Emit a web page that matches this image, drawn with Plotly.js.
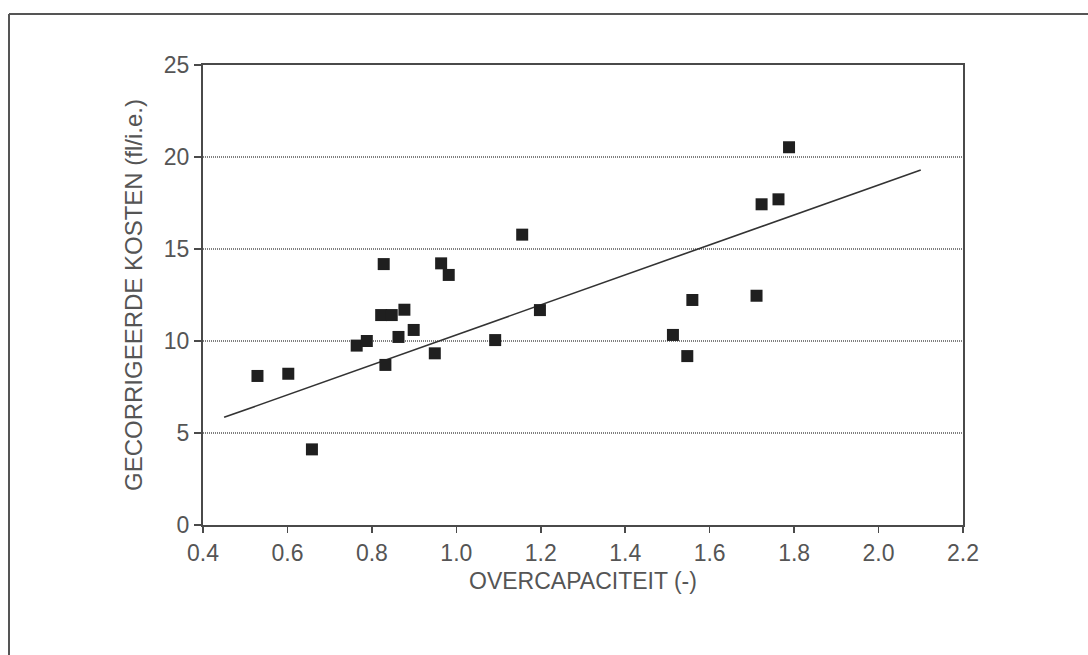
<!DOCTYPE html>
<html>
<head>
<meta charset="utf-8">
<script src="https://cdn.plot.ly/plotly-3.0.1.min.js"></script>
<style>
  html, body { margin: 0; padding: 0; background: #ffffff; }
  #chart { width: 1088px; height: 655px; }
</style>
</head>
<body>
<div id="chart"></div>
<script>
// Overcapaciteit versus gecorrigeerde kosten per installatie
const overcapaciteit = [
  0.529, 0.602, 0.658, 0.764, 0.788, 0.832, 0.822, 0.847, 0.877, 0.863,
  0.899, 0.949, 1.092, 1.198, 0.828, 0.964, 0.982, 1.156, 1.788, 1.723,
  1.763, 1.559, 1.711, 1.513, 1.547
];
const kosten = [
  8.10, 8.22, 4.11, 9.75, 10.00, 8.70, 11.41, 11.41, 11.70, 10.22,
  10.60, 9.33, 10.05, 11.68, 14.18, 14.22, 13.59, 15.78, 20.53, 17.43,
  17.70, 12.23, 12.46, 10.33, 9.18
];

// Regression line, end points
const lijnX = [0.45, 2.10];
const lijnY = [5.85, 19.30];

const xTicks = [0.4, 0.6, 0.8, 1.0, 1.2, 1.4, 1.6, 1.8, 2.0, 2.2];
const yTicks = [0, 5, 10, 15, 20, 25];

const textColor = '#555555';
const lineColor = '#4a4a4a';
const fontFamily = '"Liberation Sans", Arial, Helvetica, sans-serif';

const traces = [
  {
    x: lijnX,
    y: lijnY,
    mode: 'lines',
    type: 'scatter',
    line: { color: '#333333', width: 1.6 },
    hoverinfo: 'skip'
  },
  {
    x: overcapaciteit,
    y: kosten,
    mode: 'markers',
    type: 'scatter',
    marker: { symbol: 'square', size: 12, color: '#1f1f1f' }
  }
];

// outer frame of the figure (top and left edges)
const frameLeft = (9 - 203) / 760;
const frameTop = 1 + (65 - 14) / 460;
const frameBottom = (525 - 655) / 460;
const frameRight = (1088 - 203) / 760;

const layout = {
  width: 1088,
  height: 655,
  margin: { l: 203, r: 125, t: 65, b: 130 },
  paper_bgcolor: '#ffffff',
  plot_bgcolor: '#ffffff',
  showlegend: false,
  font: { family: fontFamily, color: textColor, size: 23 },
  xaxis: {
    range: [0.4, 2.2],
    tickvals: xTicks,
    ticktext: xTicks.map(v => v.toFixed(1)),
    ticks: 'outside',
    ticklen: 6,
    tickwidth: 1.5,
    tickcolor: lineColor,
    showline: true,
    linecolor: lineColor,
    linewidth: 2,
    mirror: true,
    showgrid: false,
    zeroline: false,
    tickfont: { size: 23, color: textColor, family: fontFamily },
    title: {
      text: 'OVERCAPACITEIT (-)',
      font: { size: 23, color: textColor, family: fontFamily },
      standoff: 8
    },
    automargin: false
  },
  yaxis: {
    range: [0, 25],
    tickvals: yTicks,
    ticks: 'outside',
    ticklen: 7,
    tickwidth: 1.5,
    tickcolor: lineColor,
    showline: true,
    linecolor: lineColor,
    linewidth: 2,
    mirror: true,
    showgrid: true,
    gridcolor: '#7f7f7f',
    gridwidth: 2,
    griddash: '1px,1px',
    zeroline: false,
    tickfont: { size: 23, color: textColor, family: fontFamily },
    title: {
      text: 'GECORRIGEERDE KOSTEN (fl/i.e.)',
      font: { size: 24, color: textColor, family: fontFamily },
      standoff: 14
    },
    automargin: false
  },
  shapes: [
    {
      type: 'line', xref: 'paper', yref: 'paper',
      x0: frameLeft, x1: frameRight, y0: frameTop, y1: frameTop,
      line: { color: '#555555', width: 2 }
    },
    {
      type: 'line', xref: 'paper', yref: 'paper',
      x0: frameLeft, x1: frameLeft, y0: frameTop, y1: frameBottom,
      line: { color: '#555555', width: 2 }
    }
  ]
};

Plotly.newPlot('chart', traces, layout, { displayModeBar: false, staticPlot: true });
</script>
</body>
</html>
